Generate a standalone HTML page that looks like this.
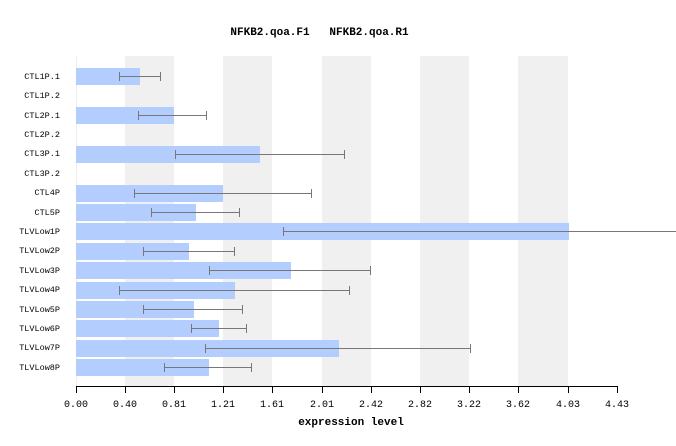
<!DOCTYPE html><html><head><style>body{margin:0;background:#fff}svg{display:block}text{font-family:"Liberation Mono","DejaVu Sans Mono",monospace}</style></head><body>
<svg width="676" height="446" xmlns="http://www.w3.org/2000/svg">
<g fill="#f0f0f0">
<rect x="125" y="56" width="49" height="330"/><rect x="223" y="56" width="49" height="330"/><rect x="322" y="56" width="49" height="330"/><rect x="420" y="56" width="49" height="330"/><rect x="518" y="56" width="50" height="330"/>
</g>
<line x1="76.5" y1="56" x2="76.5" y2="386" stroke="#eee"/>
<text x="270" y="35" font-size="11" font-weight="bold" text-anchor="middle">NFKB2.qoa.F1</text>
<text x="369" y="35" font-size="11" font-weight="bold" text-anchor="middle">NFKB2.qoa.R1</text>
<g font-size="8.5" text-anchor="end">
<text x="60" y="79">CTL1P.1</text><text x="60" y="98">CTL1P.2</text><text x="60" y="118">CTL2P.1</text><text x="60" y="137">CTL2P.2</text><text x="60" y="156">CTL3P.1</text><text x="60" y="176">CTL3P.2</text><text x="60" y="195">CTL4P</text><text x="60" y="215">CTL5P</text><text x="60" y="234">TLVLow1P</text><text x="60" y="253">TLVLow2P</text><text x="60" y="273">TLVLow3P</text><text x="60" y="292">TLVLow4P</text><text x="60" y="312">TLVLow5P</text><text x="60" y="331">TLVLow6P</text><text x="60" y="350">TLVLow7P</text><text x="60" y="370">TLVLow8P</text>
</g>
<g fill="#b3cdff">
<rect x="76" y="68" width="64" height="17"/><rect x="76" y="107" width="98" height="17"/><rect x="76" y="146" width="184" height="17"/><rect x="76" y="185" width="147" height="17"/><rect x="76" y="204" width="120" height="17"/><rect x="76" y="223" width="493" height="17"/><rect x="76" y="243" width="113" height="17"/><rect x="76" y="262" width="215" height="17"/><rect x="76" y="282" width="159" height="17"/><rect x="76" y="301" width="118" height="17"/><rect x="76" y="320" width="143" height="17"/><rect x="76" y="340" width="263" height="17"/><rect x="76" y="359" width="133" height="17"/>
</g>
<g stroke="#777" stroke-width="1">
<path d="M119 76.5H161M119.5 72v9M160.5 72v9"/>
<path d="M138 115.5H207M138.5 111v9M206.5 111v9"/>
<path d="M175 154.5H345M175.5 150v9M344.5 150v9"/>
<path d="M134 193.5H312M134.5 189v9M311.5 189v9"/>
<path d="M151 212.5H240M151.5 208v9M239.5 208v9"/>
<path d="M283 231.5H676M283.5 227v9"/>
<path d="M143 251.5H235M143.5 247v9M234.5 247v9"/>
<path d="M209 270.5H371M209.5 266v9M370.5 266v9"/>
<path d="M119 290.5H350M119.5 286v9M349.5 286v9"/>
<path d="M143 309.5H243M143.5 305v9M242.5 305v9"/>
<path d="M191 328.5H247M191.5 324v9M246.5 324v9"/>
<path d="M205 348.5H471M205.5 344v9M470.5 344v9"/>
<path d="M164 367.5H252M164.5 363v9M251.5 363v9"/>
</g>
<g stroke="#000">
<path d="M76 386.5H618"/>
<path d="M76.5 386v7M125.5 386v7M174.5 386v7M223.5 386v7M272.5 386v7M322.5 386v7M371.5 386v7M420.5 386v7M469.5 386v7M518.5 386v7M568.5 386v7M617.5 386v7"/>
</g>
<g font-size="10" text-anchor="middle">
<text x="76" y="407">0.00</text><text x="125" y="407">0.40</text><text x="174" y="407">0.81</text><text x="223" y="407">1.21</text><text x="272" y="407">1.61</text><text x="322" y="407">2.01</text><text x="371" y="407">2.42</text><text x="420" y="407">2.82</text><text x="469" y="407">3.22</text><text x="518" y="407">3.62</text><text x="568" y="407">4.03</text><text x="617" y="407">4.43</text>
</g>
<text x="351" y="425" font-size="11" font-weight="bold" text-anchor="middle">expression level</text>
</svg>
</body></html>
